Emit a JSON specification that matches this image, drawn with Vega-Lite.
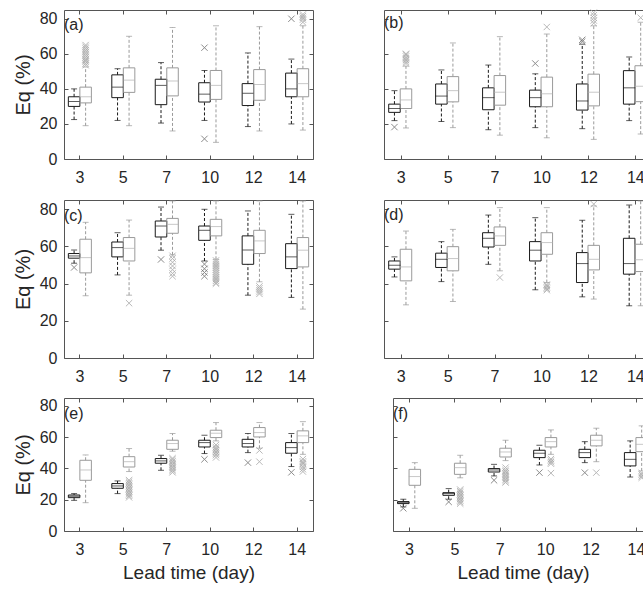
{
"$schema": "https://vega.github.io/schema/vega-lite/v6.json",
"padding": {"left": 12, "top": 6, "right": 0, "bottom": 0},
"background": "white",
"datasets": {
"box": [
{"p":"a","lead":3,"s":"A","wl":22.5,"q1":30,"med":32.8,"q3":35.5,"wh":40},
{"p":"a","lead":3,"s":"B","wl":19,"q1":32,"med":35.5,"q3":41,"wh":52.5},
{"p":"a","lead":5,"s":"A","wl":22,"q1":35,"med":41,"q3":48,"wh":51.5},
{"p":"a","lead":5,"s":"B","wl":19,"q1":38,"med":45,"q3":52,"wh":70},
{"p":"a","lead":7,"s":"A","wl":20.5,"q1":31,"med":42,"q3":45.5,"wh":55},
{"p":"a","lead":7,"s":"B","wl":16,"q1":36,"med":44.5,"q3":52,"wh":75},
{"p":"a","lead":10,"s":"A","wl":22,"q1":32.5,"med":37,"q3":43.5,"wh":50.5},
{"p":"a","lead":10,"s":"B","wl":9.5,"q1":34,"med":42,"q3":50.5,"wh":76},
{"p":"a","lead":12,"s":"A","wl":18.5,"q1":30.5,"med":37.5,"q3":43,"wh":60.5},
{"p":"a","lead":12,"s":"B","wl":16,"q1":33.5,"med":42.5,"q3":51,"wh":75.5},
{"p":"a","lead":14,"s":"A","wl":20,"q1":35.5,"med":40,"q3":49,"wh":57},
{"p":"a","lead":14,"s":"B","wl":16.5,"q1":35.5,"med":43,"q3":51.5,"wh":76},
{"p":"b","lead":3,"s":"A","wl":21.9,"q1":26.6,"med":28.8,"q3":31.3,"wh":39},
{"p":"b","lead":3,"s":"B","wl":17.7,"q1":28.8,"med":33.7,"q3":40,"wh":53},
{"p":"b","lead":5,"s":"A","wl":21.4,"q1":31.3,"med":35.9,"q3":42.8,"wh":50.8},
{"p":"b","lead":5,"s":"B","wl":17.9,"q1":32.6,"med":39,"q3":47,"wh":66.2},
{"p":"b","lead":7,"s":"A","wl":16.7,"q1":28.1,"med":35,"q3":40.6,"wh":53.6},
{"p":"b","lead":7,"s":"B","wl":13.6,"q1":30.7,"med":38.1,"q3":47.6,"wh":69.8},
{"p":"b","lead":10,"s":"A","wl":17.9,"q1":29.8,"med":35,"q3":39.3,"wh":48.6},
{"p":"b","lead":10,"s":"B","wl":12.1,"q1":29.8,"med":37.2,"q3":46.7,"wh":71.3},
{"p":"b","lead":12,"s":"A","wl":17.3,"q1":27.9,"med":33.1,"q3":42.8,"wh":65.5},
{"p":"b","lead":12,"s":"B","wl":11.2,"q1":30.3,"med":38.1,"q3":48.4,"wh":76},
{"p":"b","lead":14,"s":"A","wl":21.9,"q1":31.3,"med":40.6,"q3":50.4,"wh":58.2},
{"p":"b","lead":14,"s":"B","wl":14.2,"q1":32.7,"med":41.5,"q3":53.2,"wh":78},
{"p":"c","lead":3,"s":"A","wl":51,"q1":53.7,"med":54.9,"q3":56.2,"wh":58.1},
{"p":"c","lead":3,"s":"B","wl":33.5,"q1":45.8,"med":54,"q3":63.9,"wh":73},
{"p":"c","lead":5,"s":"A","wl":44.7,"q1":54.4,"med":59.4,"q3":62.4,"wh":67.4},
{"p":"c","lead":5,"s":"B","wl":33.8,"q1":52.2,"med":59,"q3":64.8,"wh":74.2},
{"p":"c","lead":7,"s":"A","wl":58,"q1":65.1,"med":71,"q3":73.7,"wh":81.2},
{"p":"c","lead":7,"s":"B","wl":55.5,"q1":67.1,"med":71.9,"q3":75.1,"wh":84.5},
{"p":"c","lead":10,"s":"A","wl":52.2,"q1":63.3,"med":68.7,"q3":71,"wh":80},
{"p":"c","lead":10,"s":"B","wl":53.1,"q1":65.7,"med":70.7,"q3":74.6,"wh":84.5},
{"p":"c","lead":12,"s":"A","wl":33.8,"q1":50.4,"med":58.1,"q3":65.7,"wh":79.1},
{"p":"c","lead":12,"s":"B","wl":41,"q1":56.2,"med":63,"q3":68.7,"wh":84.5},
{"p":"c","lead":14,"s":"A","wl":32.6,"q1":48.1,"med":54.4,"q3":61.5,"wh":77.3},
{"p":"c","lead":14,"s":"B","wl":26.3,"q1":49,"med":58,"q3":64.8,"wh":84.5},
{"p":"d","lead":3,"s":"A","wl":43.6,"q1":47.8,"med":49.9,"q3":52.2,"wh":54.4},
{"p":"d","lead":3,"s":"B","wl":28.6,"q1":41.5,"med":49,"q3":58.5,"wh":68.3},
{"p":"d","lead":5,"s":"A","wl":41.1,"q1":48.7,"med":53.1,"q3":56.4,"wh":62.6},
{"p":"d","lead":5,"s":"B","wl":30.4,"q1":46.9,"med":53.5,"q3":59.9,"wh":69.2},
{"p":"d","lead":7,"s":"A","wl":50.4,"q1":59.7,"med":64.4,"q3":67.4,"wh":76.9},
{"p":"d","lead":7,"s":"B","wl":46.9,"q1":60.6,"med":65.7,"q3":70.5,"wh":80.9},
{"p":"d","lead":10,"s":"A","wl":36.7,"q1":52.2,"med":58,"q3":62.6,"wh":75.5},
{"p":"d","lead":10,"s":"B","wl":40.6,"q1":55.8,"med":62.1,"q3":67.4,"wh":80.9},
{"p":"d","lead":12,"s":"A","wl":32.9,"q1":40.6,"med":50.8,"q3":56.7,"wh":74.1},
{"p":"d","lead":12,"s":"B","wl":31.7,"q1":47.4,"med":53.1,"q3":60.6,"wh":81.8},
{"p":"d","lead":14,"s":"A","wl":28.1,"q1":45.1,"med":50.8,"q3":64.4,"wh":82.3},
{"p":"d","lead":14,"s":"B","wl":28.1,"q1":46.5,"med":52.8,"q3":61.2,"wh":84.5},
{"p":"e","lead":3,"s":"A","wl":19.6,"q1":21.3,"med":22.2,"q3":23,"wh":23.9},
{"p":"e","lead":3,"s":"B","wl":18.1,"q1":32.4,"med":39,"q3":45.2,"wh":48.6},
{"p":"e","lead":5,"s":"A","wl":23.9,"q1":27.3,"med":28.8,"q3":30.3,"wh":32},
{"p":"e","lead":5,"s":"B","wl":38,"q1":40.9,"med":44.3,"q3":47.5,"wh":52.7},
{"p":"e","lead":7,"s":"A","wl":38.8,"q1":43.3,"med":44.8,"q3":46.3,"wh":48.4},
{"p":"e","lead":7,"s":"B","wl":51,"q1":52.2,"med":55.9,"q3":58,"wh":62.3},
{"p":"e","lead":10,"s":"A","wl":49.5,"q1":53.7,"med":56.5,"q3":58,"wh":61.2},
{"p":"e","lead":10,"s":"B","wl":57.6,"q1":59.7,"med":62.5,"q3":64.4,"wh":69.3},
{"p":"e","lead":12,"s":"A","wl":50.1,"q1":53.7,"med":55.9,"q3":58.6,"wh":62.3},
{"p":"e","lead":12,"s":"B","wl":52.9,"q1":60.1,"med":62.9,"q3":66.1,"wh":69.3},
{"p":"e","lead":14,"s":"A","wl":41.2,"q1":49.7,"med":53.3,"q3":56.5,"wh":62.3},
{"p":"e","lead":14,"s":"B","wl":49,"q1":56.5,"med":60.8,"q3":64,"wh":69.9},
{"p":"f","lead":3,"s":"A","wl":15.4,"q1":17.5,"med":18.1,"q3":18.8,"wh":20.3},
{"p":"f","lead":3,"s":"B","wl":14.5,"q1":29.2,"med":34.8,"q3":39.4,"wh":43.7},
{"p":"f","lead":5,"s":"A","wl":20.3,"q1":22.8,"med":23.9,"q3":24.5,"wh":27.1},
{"p":"f","lead":5,"s":"B","wl":34,"q1":36.2,"med":40.5,"q3":43.3,"wh":48.4},
{"p":"f","lead":7,"s":"A","wl":35.2,"q1":37.7,"med":39,"q3":39.9,"wh":42.6},
{"p":"f","lead":7,"s":"B","wl":45,"q1":47.3,"med":50.5,"q3":52.9,"wh":58},
{"p":"f","lead":10,"s":"A","wl":42.2,"q1":46.9,"med":49.7,"q3":51.6,"wh":54.8},
{"p":"f","lead":10,"s":"B","wl":49,"q1":53.7,"med":57.1,"q3":59.7,"wh":64.6},
{"p":"f","lead":12,"s":"A","wl":43.7,"q1":46.9,"med":50.1,"q3":52.2,"wh":57.1},
{"p":"f","lead":12,"s":"B","wl":44.3,"q1":54.4,"med":58,"q3":61.2,"wh":65.7},
{"p":"f","lead":14,"s":"A","wl":34.5,"q1":41.6,"med":45.8,"q3":50.1,"wh":57.6},
{"p":"f","lead":14,"s":"B","wl":38.4,"q1":50.7,"med":55.4,"q3":59.7,"wh":67.2}
],
"out": [
{"p":"a","lead":3,"s":"B","v":53.5},{"p":"a","lead":3,"s":"B","v":54.5},{"p":"a","lead":3,"s":"B","v":55.5},{"p":"a","lead":3,"s":"B","v":56.3},{"p":"a","lead":3,"s":"B","v":57},{"p":"a","lead":3,"s":"B","v":58},{"p":"a","lead":3,"s":"B","v":59},{"p":"a","lead":3,"s":"B","v":60},{"p":"a","lead":3,"s":"B","v":61},{"p":"a","lead":3,"s":"B","v":62},{"p":"a","lead":3,"s":"B","v":63},{"p":"a","lead":3,"s":"B","v":64},{"p":"a","lead":3,"s":"B","v":65},
{"p":"a","lead":10,"s":"A","v":63.5},{"p":"a","lead":10,"s":"A","v":11.5},
{"p":"a","lead":14,"s":"A","v":80},
{"p":"a","lead":14,"s":"B","v":78},{"p":"a","lead":14,"s":"B","v":79.5},{"p":"a","lead":14,"s":"B","v":80.5},{"p":"a","lead":14,"s":"B","v":81.5},{"p":"a","lead":14,"s":"B","v":82.5},
{"p":"b","lead":3,"s":"A","v":18.2},
{"p":"b","lead":3,"s":"B","v":54.5},{"p":"b","lead":3,"s":"B","v":55.5},{"p":"b","lead":3,"s":"B","v":56.5},{"p":"b","lead":3,"s":"B","v":57.5},{"p":"b","lead":3,"s":"B","v":58.5},{"p":"b","lead":3,"s":"B","v":59.5},{"p":"b","lead":3,"s":"B","v":60},
{"p":"b","lead":10,"s":"A","v":54.5},{"p":"b","lead":10,"s":"B","v":75.3},
{"p":"b","lead":12,"s":"A","v":67},{"p":"b","lead":12,"s":"A","v":68},
{"p":"b","lead":12,"s":"B","v":77.5},{"p":"b","lead":12,"s":"B","v":79},{"p":"b","lead":12,"s":"B","v":80.5},{"p":"b","lead":12,"s":"B","v":82},{"p":"b","lead":12,"s":"B","v":83.5},
{"p":"b","lead":14,"s":"B","v":80.6},
{"p":"c","lead":3,"s":"A","v":48.7},
{"p":"c","lead":5,"s":"B","v":29.5},
{"p":"c","lead":7,"s":"A","v":53},
{"p":"c","lead":7,"s":"B","v":55},{"p":"c","lead":7,"s":"B","v":53.5},{"p":"c","lead":7,"s":"B","v":51.5},{"p":"c","lead":7,"s":"B","v":49.5},{"p":"c","lead":7,"s":"B","v":47.5},{"p":"c","lead":7,"s":"B","v":45.5},{"p":"c","lead":7,"s":"B","v":44},
{"p":"c","lead":10,"s":"A","v":50.5},{"p":"c","lead":10,"s":"A","v":48},{"p":"c","lead":10,"s":"A","v":46},{"p":"c","lead":10,"s":"A","v":44},
{"p":"c","lead":10,"s":"B","v":52.5},{"p":"c","lead":10,"s":"B","v":51.5},{"p":"c","lead":10,"s":"B","v":50.5},{"p":"c","lead":10,"s":"B","v":49.5},{"p":"c","lead":10,"s":"B","v":48.5},{"p":"c","lead":10,"s":"B","v":47.5},{"p":"c","lead":10,"s":"B","v":46.5},{"p":"c","lead":10,"s":"B","v":45.5},{"p":"c","lead":10,"s":"B","v":44.5},{"p":"c","lead":10,"s":"B","v":43.5},{"p":"c","lead":10,"s":"B","v":42.5},{"p":"c","lead":10,"s":"B","v":41.5},{"p":"c","lead":10,"s":"B","v":40.5},{"p":"c","lead":10,"s":"B","v":40},
{"p":"c","lead":12,"s":"B","v":38.5},{"p":"c","lead":12,"s":"B","v":37.5},{"p":"c","lead":12,"s":"B","v":36.5},{"p":"c","lead":12,"s":"B","v":35.5},{"p":"c","lead":12,"s":"B","v":34.5},
{"p":"d","lead":7,"s":"B","v":43.3},
{"p":"d","lead":10,"s":"B","v":39.5},{"p":"d","lead":10,"s":"B","v":38.8},{"p":"d","lead":10,"s":"B","v":38},{"p":"d","lead":10,"s":"B","v":37.2},{"p":"d","lead":10,"s":"B","v":36.5},
{"p":"d","lead":12,"s":"B","v":82.8},
{"p":"e","lead":5,"s":"B","v":21.5},{"p":"e","lead":5,"s":"B","v":22.5},{"p":"e","lead":5,"s":"B","v":23.5},{"p":"e","lead":5,"s":"B","v":24.5},{"p":"e","lead":5,"s":"B","v":25.5},{"p":"e","lead":5,"s":"B","v":26.5},{"p":"e","lead":5,"s":"B","v":27.5},{"p":"e","lead":5,"s":"B","v":28.5},{"p":"e","lead":5,"s":"B","v":29.5},{"p":"e","lead":5,"s":"B","v":30.5},{"p":"e","lead":5,"s":"B","v":31.5},{"p":"e","lead":5,"s":"B","v":32.5},
{"p":"e","lead":7,"s":"B","v":37.5},{"p":"e","lead":7,"s":"B","v":38.5},{"p":"e","lead":7,"s":"B","v":39.5},{"p":"e","lead":7,"s":"B","v":40.5},{"p":"e","lead":7,"s":"B","v":41.5},{"p":"e","lead":7,"s":"B","v":42.5},{"p":"e","lead":7,"s":"B","v":43.5},{"p":"e","lead":7,"s":"B","v":44.5},{"p":"e","lead":7,"s":"B","v":45.5},{"p":"e","lead":7,"s":"B","v":46.5},
{"p":"e","lead":10,"s":"A","v":45.8},
{"p":"e","lead":10,"s":"B","v":55},{"p":"e","lead":10,"s":"B","v":53.5},{"p":"e","lead":10,"s":"B","v":52.5},{"p":"e","lead":10,"s":"B","v":51.5},{"p":"e","lead":10,"s":"B","v":50.5},{"p":"e","lead":10,"s":"B","v":49.5},{"p":"e","lead":10,"s":"B","v":48.5},{"p":"e","lead":10,"s":"B","v":47},
{"p":"e","lead":12,"s":"A","v":43.7},
{"p":"e","lead":12,"s":"B","v":51.5},{"p":"e","lead":12,"s":"B","v":44.3},
{"p":"e","lead":14,"s":"A","v":37.5},
{"p":"e","lead":14,"s":"B","v":46},{"p":"e","lead":14,"s":"B","v":44.5},{"p":"e","lead":14,"s":"B","v":43.5},{"p":"e","lead":14,"s":"B","v":42.5},{"p":"e","lead":14,"s":"B","v":41},{"p":"e","lead":14,"s":"B","v":39.5},{"p":"e","lead":14,"s":"B","v":38},
{"p":"f","lead":3,"s":"A","v":14.5},
{"p":"f","lead":5,"s":"A","v":18.6},
{"p":"f","lead":5,"s":"B","v":17.5},{"p":"f","lead":5,"s":"B","v":18.5},{"p":"f","lead":5,"s":"B","v":19.5},{"p":"f","lead":5,"s":"B","v":20.5},{"p":"f","lead":5,"s":"B","v":21.5},{"p":"f","lead":5,"s":"B","v":22.5},{"p":"f","lead":5,"s":"B","v":23.5},{"p":"f","lead":5,"s":"B","v":24.5},{"p":"f","lead":5,"s":"B","v":25.5},{"p":"f","lead":5,"s":"B","v":26.5},
{"p":"f","lead":7,"s":"A","v":32.4},
{"p":"f","lead":7,"s":"B","v":31},{"p":"f","lead":7,"s":"B","v":32},{"p":"f","lead":7,"s":"B","v":33},{"p":"f","lead":7,"s":"B","v":34},{"p":"f","lead":7,"s":"B","v":35},{"p":"f","lead":7,"s":"B","v":36},{"p":"f","lead":7,"s":"B","v":37},{"p":"f","lead":7,"s":"B","v":38},{"p":"f","lead":7,"s":"B","v":39},{"p":"f","lead":7,"s":"B","v":40.5},
{"p":"f","lead":10,"s":"A","v":37.3},
{"p":"f","lead":10,"s":"B","v":46},{"p":"f","lead":10,"s":"B","v":45},{"p":"f","lead":10,"s":"B","v":44},{"p":"f","lead":10,"s":"B","v":43},{"p":"f","lead":10,"s":"B","v":37},
{"p":"f","lead":12,"s":"A","v":37.3},{"p":"f","lead":12,"s":"B","v":37.3},
{"p":"f","lead":14,"s":"B","v":37},{"p":"f","lead":14,"s":"B","v":36},{"p":"f","lead":14,"s":"B","v":35},{"p":"f","lead":14,"s":"B","v":34}
]
},
"spacing": 12,
"vconcat": [
{"spacing": 69, "hconcat": [
{"width": 249, "height": 149, "title": "(a)", "resolve": {"axis": {"x": "independent", "y": "independent"}},
 "layer": [
 {"encoding": {"x": {"field":"lead","type":"ordinal","sort":[3,5,7,10,12,14],"scale":{"paddingInner":0.47,"paddingOuter":0.1},"axis":{"title":null,"labelAngle":0}},
   "xOffset": {"field":"s","type":"nominal","scale":{"domain":["A","B"]}}},
  "layer": [
  {"data":{"name":"box"},"transform":[{"filter":"datum.p=='a'"}],"mark":{"type":"rule","strokeDash":[3,2]},"encoding":{"y":{"field":"wl","type":"quantitative","scale":{"domain":[0,85],"nice":false},"axis":{"values":[0,20,40,60,80],"tickCount":5,"title":"Eq (%)","labelOverlap":false}},"y2":{"field":"q1"},"color":{"field":"s","type":"nominal","scale":{"domain":["A","B"],"range":["#1a1a1a","#9a9a9a"]},"legend":null}}},
  {"data":{"name":"box"},"transform":[{"filter":"datum.p=='a'"}],"mark":{"type":"rule","strokeDash":[3,2]},"encoding":{"y":{"field":"q3","type":"quantitative"},"y2":{"field":"wh"},"color":{"field":"s","type":"nominal","legend":null}}},
  {"data":{"name":"box"},"transform":[{"filter":"datum.p=='a'"},{"fold":["wl","wh"],"as":["k","val"]}],"mark":{"type":"tick","size":6,"thickness":1},"encoding":{"y":{"field":"val","type":"quantitative"},"color":{"field":"s","type":"nominal","legend":null}}},
  {"data":{"name":"box"},"transform":[{"filter":"datum.p=='a'"}],"mark":{"type":"bar","filled":false,"strokeWidth":1},"encoding":{"y":{"field":"q1","type":"quantitative"},"y2":{"field":"q3"},"color":{"field":"s","type":"nominal","legend":null}}},
  {"data":{"name":"box"},"transform":[{"filter":"datum.p=='a'"}],"mark":{"type":"tick","size":11,"thickness":1},"encoding":{"y":{"field":"med","type":"quantitative"},"fill":{"field":"s","type":"nominal","scale":{"domain":["A","B"],"range":["#1a1a1a","#b0b0b0"]},"legend":null}}},
  {"data":{"name":"out"},"transform":[{"filter":"datum.p=='a'"}],"mark":{"type":"point","shape":"M-1,-1L1,1M-1,1L1,-1","filled":false,"size":40,"strokeWidth":1,"opacity":0.8},"encoding":{"y":{"field":"v","type":"quantitative"},"stroke":{"field":"s","type":"nominal","scale":{"domain":["A","B"],"range":["#707070","#a8a8a8"]},"legend":null}}}
  ]},
 {"data":{"name":"box"},"transform":[{"filter":"datum.p=='a'"}],"mark":{"type":"point","opacity":0},"encoding":{"x":{"field":"lead","type":"ordinal","sort":[3,5,7,10,12,14],"axis":{"orient":"top","labels":false,"title":null}},"y":{"field":"med","type":"quantitative","axis":{"orient":"right","labels":false,"title":null,"values":[0,20,40,60,80],"tickCount":5}}}}
 ]},
{"width": 269, "height": 149, "title": "(b)", "resolve": {"axis": {"x": "independent", "y": "independent"}},
 "layer": [
 {"encoding": {"x": {"field":"lead","type":"ordinal","sort":[3,5,7,10,12,14],"scale":{"paddingInner":0.47,"paddingOuter":0.1},"axis":{"title":null,"labelAngle":0}},
   "xOffset": {"field":"s","type":"nominal","scale":{"domain":["A","B"]}}},
  "layer": [
  {"data":{"name":"box"},"transform":[{"filter":"datum.p=='b'"}],"mark":{"type":"rule","strokeDash":[3,2]},"encoding":{"y":{"field":"wl","type":"quantitative","scale":{"domain":[0,85],"nice":false},"axis":{"values":[0,20,40,60,80],"tickCount":5,"title":null,"labels":false}},"y2":{"field":"q1"},"color":{"field":"s","type":"nominal","scale":{"domain":["A","B"],"range":["#1a1a1a","#9a9a9a"]},"legend":null}}},
  {"data":{"name":"box"},"transform":[{"filter":"datum.p=='b'"}],"mark":{"type":"rule","strokeDash":[3,2]},"encoding":{"y":{"field":"q3","type":"quantitative"},"y2":{"field":"wh"},"color":{"field":"s","type":"nominal","legend":null}}},
  {"data":{"name":"box"},"transform":[{"filter":"datum.p=='b'"},{"fold":["wl","wh"],"as":["k","val"]}],"mark":{"type":"tick","size":6,"thickness":1},"encoding":{"y":{"field":"val","type":"quantitative"},"color":{"field":"s","type":"nominal","legend":null}}},
  {"data":{"name":"box"},"transform":[{"filter":"datum.p=='b'"}],"mark":{"type":"bar","filled":false,"strokeWidth":1},"encoding":{"y":{"field":"q1","type":"quantitative"},"y2":{"field":"q3"},"color":{"field":"s","type":"nominal","legend":null}}},
  {"data":{"name":"box"},"transform":[{"filter":"datum.p=='b'"}],"mark":{"type":"tick","size":12,"thickness":1},"encoding":{"y":{"field":"med","type":"quantitative"},"fill":{"field":"s","type":"nominal","scale":{"domain":["A","B"],"range":["#1a1a1a","#b0b0b0"]},"legend":null}}},
  {"data":{"name":"out"},"transform":[{"filter":"datum.p=='b'"}],"mark":{"type":"point","shape":"M-1,-1L1,1M-1,1L1,-1","filled":false,"size":40,"strokeWidth":1,"opacity":0.8},"encoding":{"y":{"field":"v","type":"quantitative"},"stroke":{"field":"s","type":"nominal","scale":{"domain":["A","B"],"range":["#707070","#a8a8a8"]},"legend":null}}}
  ]},
 {"data":{"name":"box"},"transform":[{"filter":"datum.p=='b'"}],"mark":{"type":"point","opacity":0},"encoding":{"x":{"field":"lead","type":"ordinal","sort":[3,5,7,10,12,14],"axis":{"orient":"top","labels":false,"title":null}},"y":{"field":"med","type":"quantitative","axis":{"orient":"right","labels":false,"title":null,"values":[0,20,40,60,80],"tickCount":5}}}}
 ]}
]},
{"spacing": 69, "hconcat": [
{"width": 249, "height": 158, "title": "(c)", "resolve": {"axis": {"x": "independent", "y": "independent"}},
 "layer": [
 {"encoding": {"x": {"field":"lead","type":"ordinal","sort":[3,5,7,10,12,14],"scale":{"paddingInner":0.47,"paddingOuter":0.1},"axis":{"title":null,"labelAngle":0}},
   "xOffset": {"field":"s","type":"nominal","scale":{"domain":["A","B"]}}},
  "layer": [
  {"data":{"name":"box"},"transform":[{"filter":"datum.p=='c'"}],"mark":{"type":"rule","strokeDash":[3,2]},"encoding":{"y":{"field":"wl","type":"quantitative","scale":{"domain":[0,85],"nice":false},"axis":{"values":[0,20,40,60,80],"tickCount":5,"title":"Eq (%)","labelOverlap":false}},"y2":{"field":"q1"},"color":{"field":"s","type":"nominal","scale":{"domain":["A","B"],"range":["#1a1a1a","#9a9a9a"]},"legend":null}}},
  {"data":{"name":"box"},"transform":[{"filter":"datum.p=='c'"}],"mark":{"type":"rule","strokeDash":[3,2]},"encoding":{"y":{"field":"q3","type":"quantitative"},"y2":{"field":"wh"},"color":{"field":"s","type":"nominal","legend":null}}},
  {"data":{"name":"box"},"transform":[{"filter":"datum.p=='c'"},{"fold":["wl","wh"],"as":["k","val"]}],"mark":{"type":"tick","size":6,"thickness":1},"encoding":{"y":{"field":"val","type":"quantitative"},"color":{"field":"s","type":"nominal","legend":null}}},
  {"data":{"name":"box"},"transform":[{"filter":"datum.p=='c'"}],"mark":{"type":"bar","filled":false,"strokeWidth":1},"encoding":{"y":{"field":"q1","type":"quantitative"},"y2":{"field":"q3"},"color":{"field":"s","type":"nominal","legend":null}}},
  {"data":{"name":"box"},"transform":[{"filter":"datum.p=='c'"}],"mark":{"type":"tick","size":11,"thickness":1},"encoding":{"y":{"field":"med","type":"quantitative"},"fill":{"field":"s","type":"nominal","scale":{"domain":["A","B"],"range":["#1a1a1a","#b0b0b0"]},"legend":null}}},
  {"data":{"name":"out"},"transform":[{"filter":"datum.p=='c'"}],"mark":{"type":"point","shape":"M-1,-1L1,1M-1,1L1,-1","filled":false,"size":40,"strokeWidth":1,"opacity":0.8},"encoding":{"y":{"field":"v","type":"quantitative"},"stroke":{"field":"s","type":"nominal","scale":{"domain":["A","B"],"range":["#707070","#a8a8a8"]},"legend":null}}}
  ]},
 {"data":{"name":"box"},"transform":[{"filter":"datum.p=='c'"}],"mark":{"type":"point","opacity":0},"encoding":{"x":{"field":"lead","type":"ordinal","sort":[3,5,7,10,12,14],"axis":{"orient":"top","labels":false,"title":null}},"y":{"field":"med","type":"quantitative","axis":{"orient":"right","labels":false,"title":null,"values":[0,20,40,60,80],"tickCount":5}}}}
 ]},
{"width": 269, "height": 158, "title": "(d)", "resolve": {"axis": {"x": "independent", "y": "independent"}},
 "layer": [
 {"encoding": {"x": {"field":"lead","type":"ordinal","sort":[3,5,7,10,12,14],"scale":{"paddingInner":0.47,"paddingOuter":0.1},"axis":{"title":null,"labelAngle":0}},
   "xOffset": {"field":"s","type":"nominal","scale":{"domain":["A","B"]}}},
  "layer": [
  {"data":{"name":"box"},"transform":[{"filter":"datum.p=='d'"}],"mark":{"type":"rule","strokeDash":[3,2]},"encoding":{"y":{"field":"wl","type":"quantitative","scale":{"domain":[0,85],"nice":false},"axis":{"values":[0,20,40,60,80],"tickCount":5,"title":null,"labels":false}},"y2":{"field":"q1"},"color":{"field":"s","type":"nominal","scale":{"domain":["A","B"],"range":["#1a1a1a","#9a9a9a"]},"legend":null}}},
  {"data":{"name":"box"},"transform":[{"filter":"datum.p=='d'"}],"mark":{"type":"rule","strokeDash":[3,2]},"encoding":{"y":{"field":"q3","type":"quantitative"},"y2":{"field":"wh"},"color":{"field":"s","type":"nominal","legend":null}}},
  {"data":{"name":"box"},"transform":[{"filter":"datum.p=='d'"},{"fold":["wl","wh"],"as":["k","val"]}],"mark":{"type":"tick","size":6,"thickness":1},"encoding":{"y":{"field":"val","type":"quantitative"},"color":{"field":"s","type":"nominal","legend":null}}},
  {"data":{"name":"box"},"transform":[{"filter":"datum.p=='d'"}],"mark":{"type":"bar","filled":false,"strokeWidth":1},"encoding":{"y":{"field":"q1","type":"quantitative"},"y2":{"field":"q3"},"color":{"field":"s","type":"nominal","legend":null}}},
  {"data":{"name":"box"},"transform":[{"filter":"datum.p=='d'"}],"mark":{"type":"tick","size":12,"thickness":1},"encoding":{"y":{"field":"med","type":"quantitative"},"fill":{"field":"s","type":"nominal","scale":{"domain":["A","B"],"range":["#1a1a1a","#b0b0b0"]},"legend":null}}},
  {"data":{"name":"out"},"transform":[{"filter":"datum.p=='d'"}],"mark":{"type":"point","shape":"M-1,-1L1,1M-1,1L1,-1","filled":false,"size":40,"strokeWidth":1,"opacity":0.8},"encoding":{"y":{"field":"v","type":"quantitative"},"stroke":{"field":"s","type":"nominal","scale":{"domain":["A","B"],"range":["#707070","#a8a8a8"]},"legend":null}}}
  ]},
 {"data":{"name":"box"},"transform":[{"filter":"datum.p=='d'"}],"mark":{"type":"point","opacity":0},"encoding":{"x":{"field":"lead","type":"ordinal","sort":[3,5,7,10,12,14],"axis":{"orient":"top","labels":false,"title":null}},"y":{"field":"med","type":"quantitative","axis":{"orient":"right","labels":false,"title":null,"values":[0,20,40,60,80],"tickCount":5}}}}
 ]}
]},
{"spacing": 78, "hconcat": [
{"width": 249, "height": 133, "title": "(e)", "resolve": {"axis": {"x": "independent", "y": "independent"}},
 "layer": [
 {"encoding": {"x": {"field":"lead","type":"ordinal","sort":[3,5,7,10,12,14],"scale":{"paddingInner":0.47,"paddingOuter":0.1},"axis":{"title":"Lead time (day)","labelAngle":0}},
   "xOffset": {"field":"s","type":"nominal","scale":{"domain":["A","B"]}}},
  "layer": [
  {"data":{"name":"box"},"transform":[{"filter":"datum.p=='e'"}],"mark":{"type":"rule","strokeDash":[3,2]},"encoding":{"y":{"field":"wl","type":"quantitative","scale":{"domain":[0,85],"nice":false},"axis":{"values":[0,20,40,60,80],"tickCount":5,"title":"Eq (%)","labelOverlap":false}},"y2":{"field":"q1"},"color":{"field":"s","type":"nominal","scale":{"domain":["A","B"],"range":["#1a1a1a","#9a9a9a"]},"legend":null}}},
  {"data":{"name":"box"},"transform":[{"filter":"datum.p=='e'"}],"mark":{"type":"rule","strokeDash":[3,2]},"encoding":{"y":{"field":"q3","type":"quantitative"},"y2":{"field":"wh"},"color":{"field":"s","type":"nominal","legend":null}}},
  {"data":{"name":"box"},"transform":[{"filter":"datum.p=='e'"},{"fold":["wl","wh"],"as":["k","val"]}],"mark":{"type":"tick","size":6,"thickness":1},"encoding":{"y":{"field":"val","type":"quantitative"},"color":{"field":"s","type":"nominal","legend":null}}},
  {"data":{"name":"box"},"transform":[{"filter":"datum.p=='e'"}],"mark":{"type":"bar","filled":false,"strokeWidth":1},"encoding":{"y":{"field":"q1","type":"quantitative"},"y2":{"field":"q3"},"color":{"field":"s","type":"nominal","legend":null}}},
  {"data":{"name":"box"},"transform":[{"filter":"datum.p=='e'"}],"mark":{"type":"tick","size":11,"thickness":1},"encoding":{"y":{"field":"med","type":"quantitative"},"fill":{"field":"s","type":"nominal","scale":{"domain":["A","B"],"range":["#1a1a1a","#b0b0b0"]},"legend":null}}},
  {"data":{"name":"out"},"transform":[{"filter":"datum.p=='e'"}],"mark":{"type":"point","shape":"M-1,-1L1,1M-1,1L1,-1","filled":false,"size":40,"strokeWidth":1,"opacity":0.8},"encoding":{"y":{"field":"v","type":"quantitative"},"stroke":{"field":"s","type":"nominal","scale":{"domain":["A","B"],"range":["#707070","#a8a8a8"]},"legend":null}}}
  ]},
 {"data":{"name":"box"},"transform":[{"filter":"datum.p=='e'"}],"mark":{"type":"point","opacity":0},"encoding":{"x":{"field":"lead","type":"ordinal","sort":[3,5,7,10,12,14],"axis":{"orient":"top","labels":false,"title":null}},"y":{"field":"med","type":"quantitative","axis":{"orient":"right","labels":false,"title":null,"values":[0,20,40,60,80],"tickCount":5}}}}
 ]},
{"width": 260, "height": 133, "title": "(f)", "resolve": {"axis": {"x": "independent", "y": "independent"}},
 "layer": [
 {"encoding": {"x": {"field":"lead","type":"ordinal","sort":[3,5,7,10,12,14],"scale":{"paddingInner":0.47,"paddingOuter":0.1},"axis":{"title":"Lead time (day)","labelAngle":0}},
   "xOffset": {"field":"s","type":"nominal","scale":{"domain":["A","B"]}}},
  "layer": [
  {"data":{"name":"box"},"transform":[{"filter":"datum.p=='f'"}],"mark":{"type":"rule","strokeDash":[3,2]},"encoding":{"y":{"field":"wl","type":"quantitative","scale":{"domain":[0,85],"nice":false},"axis":{"values":[0,20,40,60,80],"tickCount":5,"title":null,"labels":false}},"y2":{"field":"q1"},"color":{"field":"s","type":"nominal","scale":{"domain":["A","B"],"range":["#1a1a1a","#9a9a9a"]},"legend":null}}},
  {"data":{"name":"box"},"transform":[{"filter":"datum.p=='f'"}],"mark":{"type":"rule","strokeDash":[3,2]},"encoding":{"y":{"field":"q3","type":"quantitative"},"y2":{"field":"wh"},"color":{"field":"s","type":"nominal","legend":null}}},
  {"data":{"name":"box"},"transform":[{"filter":"datum.p=='f'"},{"fold":["wl","wh"],"as":["k","val"]}],"mark":{"type":"tick","size":6,"thickness":1},"encoding":{"y":{"field":"val","type":"quantitative"},"color":{"field":"s","type":"nominal","legend":null}}},
  {"data":{"name":"box"},"transform":[{"filter":"datum.p=='f'"}],"mark":{"type":"bar","filled":false,"strokeWidth":1},"encoding":{"y":{"field":"q1","type":"quantitative"},"y2":{"field":"q3"},"color":{"field":"s","type":"nominal","legend":null}}},
  {"data":{"name":"box"},"transform":[{"filter":"datum.p=='f'"}],"mark":{"type":"tick","size":12,"thickness":1},"encoding":{"y":{"field":"med","type":"quantitative"},"fill":{"field":"s","type":"nominal","scale":{"domain":["A","B"],"range":["#1a1a1a","#b0b0b0"]},"legend":null}}},
  {"data":{"name":"out"},"transform":[{"filter":"datum.p=='f'"}],"mark":{"type":"point","shape":"M-1,-1L1,1M-1,1L1,-1","filled":false,"size":40,"strokeWidth":1,"opacity":0.8},"encoding":{"y":{"field":"v","type":"quantitative"},"stroke":{"field":"s","type":"nominal","scale":{"domain":["A","B"],"range":["#707070","#a8a8a8"]},"legend":null}}}
  ]},
 {"data":{"name":"box"},"transform":[{"filter":"datum.p=='f'"}],"mark":{"type":"point","opacity":0},"encoding":{"x":{"field":"lead","type":"ordinal","sort":[3,5,7,10,12,14],"axis":{"orient":"top","labels":false,"title":null}},"y":{"field":"med","type":"quantitative","axis":{"orient":"right","labels":false,"title":null,"values":[0,20,40,60,80],"tickCount":5}}}}
 ]}
]}
],
"config": {
 "font": "Liberation Sans",
 "view": {"stroke": "#555555"},
 "axis": {"grid": false, "domain": false, "tickSize": -4, "tickColor": "#555555", "labelFontSize": 16, "labelColor": "#262626", "labelOverlap": false, "titleFontSize": 20, "titleFontWeight": "normal", "titleColor": "#262626"},
 "axisX": {"labelPadding": 14, "titlePadding": 6, "titleFontSize": 19},
 "axisY": {"labelPadding": 11, "titlePadding": 6},
 "title": {"anchor": "start", "frame": "group", "offset": -24, "fontSize": 16, "fontWeight": "normal", "color": "#262626", "baseline": "alphabetic"}
}
}
